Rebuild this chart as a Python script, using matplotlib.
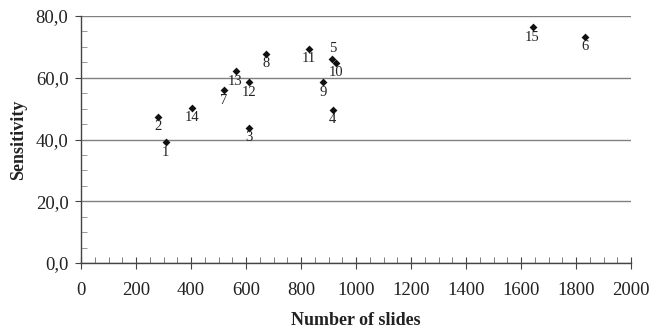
import matplotlib
matplotlib.use("Agg")
import matplotlib.pyplot as plt
from matplotlib.ticker import MultipleLocator, FuncFormatter

slides = [308, 281, 611, 915, 914, 1834, 519, 674, 881, 926, 828, 611, 562, 402, 1642]
sensitivity = [39.1, 47.4, 43.8, 49.6, 66.0, 73.3, 55.9, 67.7, 58.6, 64.9, 69.4, 58.6, 62.1, 50.3, 76.3]
labels = ["1", "2", "3", "4", "5", "6", "7", "8", "9", "10", "11", "12", "13", "14", "15"]
above = ["5"]

plt.rcParams['font.family'] = ['Liberation Serif', 'DejaVu Serif']

fig = plt.figure(figsize=(6.52, 3.30), dpi=100)
ax = fig.add_axes([81/652, 67/330, 550/652, 247/330])

ax.scatter(slides, sensitivity, marker='D', s=16, color='#111111', zorder=3, linewidths=0)
for x, y, lab in zip(slides, sensitivity, labels):
    dy = 11 if lab in above else -10
    ax.annotate(lab, (x, y), xytext=(0, dy), textcoords='offset pixels',
                ha='center', va='center', fontsize=10.5, color='#222222')

ax.set_xlim(0, 2000)
ax.set_ylim(0, 80)
ax.xaxis.set_major_locator(MultipleLocator(200))
ax.xaxis.set_minor_locator(MultipleLocator(50))
ax.yaxis.set_major_locator(MultipleLocator(20))
ax.yaxis.set_minor_locator(MultipleLocator(5))
ax.yaxis.set_major_formatter(FuncFormatter(lambda v, p: f"{v:.1f}".replace('.', ',')))

ax.grid(axis='y', which='major', color='#808080', linewidth=1.0)
ax.set_axisbelow(True)
for s in ['top', 'right']:
    ax.spines[s].set_visible(False)
for s in ['left', 'bottom']:
    ax.spines[s].set_color('#444444')
    ax.spines[s].set_linewidth(1.0)

ax.tick_params(axis='x', which='major', direction='inout', length=8, color='#444444',
               labelsize=13.5, labelcolor='#222222', pad=10)
ax.tick_params(axis='x', which='minor', direction='in', length=4, color='#666666')
ax.tick_params(axis='y', which='major', direction='out', length=4, color='#444444',
               labelsize=13.5, labelcolor='#222222', pad=5)
ax.tick_params(axis='y', which='minor', direction='in', length=4, color='#888888')

ax.set_xlabel("Number of slides", fontsize=13, fontweight='bold', color='#222222', labelpad=9)
ax.set_ylabel("Sensitivity", fontsize=13, fontweight='bold', color='#222222', labelpad=6)

fig.savefig("out.png", dpi=100)
